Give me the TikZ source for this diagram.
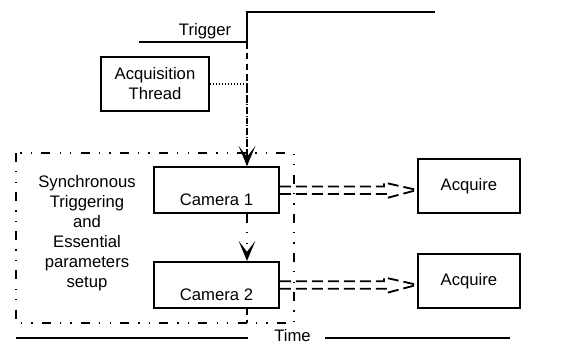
\documentclass[tikz,border=0pt]{standalone}
\usepackage{fontspec}
\setmainfont{Liberation Sans}
\usetikzlibrary{positioning,arrows.meta}
\tikzset{
  box/.style={draw, line width=1.1pt, align=center, inner sep=2pt},
  cambox/.style={box, minimum width=75pt, text height=21.6pt, text depth=2.4pt, inner ysep=1.8pt},
  acqbox/.style={box, minimum width=61.2pt, minimum height=32.4pt},
  wave/.style={line width=1.2pt},
  tip/.style={-{Stealth[length=12pt, width=10pt, inset=6.5pt]}},
  trigline/.style={line width=1pt, dash pattern=on 4pt off 2.5pt},
  thread/.style={line width=0.8pt, dash pattern=on 0.8pt off 1pt},
  frame/.style={line width=1pt, dash pattern=on 5.4pt off 5.5pt on 0.8pt off 5.5pt on 0.8pt off 5.5pt},
  sendline/.style={line width=1.1pt, dash pattern=on 6.6pt off 3pt}
}
\begin{document}
\begin{tikzpicture}[x=0.6pt, y=0.6pt, node distance=28pt, font=\fontsize{10}{12}\selectfont]
  \useasboundingbox (0,0) rectangle (574,-343);
  % trigger signal
  \coordinate (trig) at (247,-42);
  \draw[wave] (139,-42) -- (trig) -- (247,-12) -- (435,-12);
  \node[above left=-2pt and 6pt of trig] (triglbl) {Trigger};
  \node[acqbox, minimum width=64.8pt] (acq) at (155,-84) {Acquisition\\Thread};
  % cameras inside the setup frame
  \coordinate (fnw) at (16,-153);
  \coordinate (fse) at (294,-323);
  \draw[frame] (fnw) rectangle (fse);
  \node (setup) at (87,-233.5) [align=center] {Synchronous\\Triggering\\and\\Essential\\parameters\\setup};
  \node[cambox] (cam1) at (216.5,-190) {Camera 1};
  \node[cambox, below=28.2pt of cam1] (cam2) {Camera 2};
  \node[acqbox] (acq1) at (469,-186) {Acquire};
  \node[acqbox, below=23.4pt of acq1] (acq2) {Acquire};
  % trigger path
  \draw[thread] (acq.east) -| (trig |- cam1.north);
  \draw[trigline, tip] (trig) -- (trig |- cam1.north);
  \draw[frame, tip] (trig |- cam1.south) -- (trig |- cam2.north);
  \draw[trigline] (trig |- cam2.south) -- (trig |- fse);
  % cameras -> acquire
  \foreach \c/\a in {cam1/acq1, cam2/acq2} {
    \draw[sendline] ([shift={(0,3.5)}]\c.east) -- ++(104,0) -- ++(0,4) -- (\a.west |- \c.east);
    \draw[sendline] ([shift={(0,-4)}]\c.east) -- ++(107,0) -- ++(0,-4) -- (\a.west |- \c.east);
  }
  % time axis
  \node (time) at (292.5,-336) {Time};
  \draw[wave] (16,-338) -- (248,-338) (325,-338) -- (510,-338);
\end{tikzpicture}
\end{document}
